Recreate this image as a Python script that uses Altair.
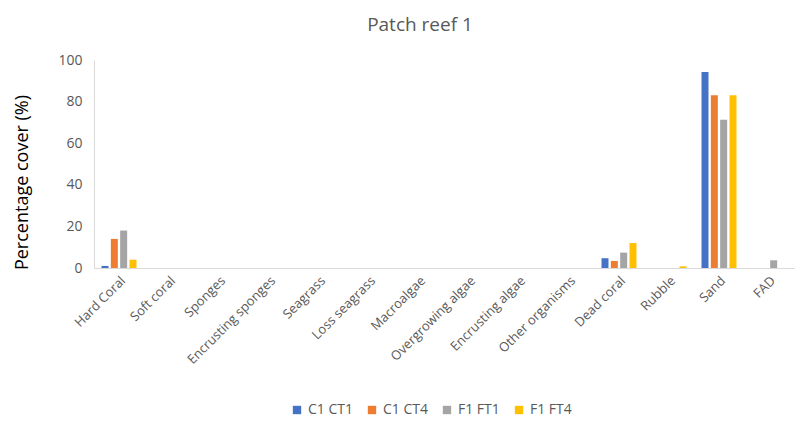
import altair as alt
import pandas as pd

categories = ["Hard Coral", "Soft coral", "Sponges", "Encrusting sponges", "Seagrass",
              "Loss seagrass", "Macroalgae", "Overgrowing algae", "Encrusting algae",
              "Other organisms", "Dead coral", "Rubble", "Sand", "FAD"]
series = ["C1 CT1", "C1 CT4", "F1 FT1", "F1 FT4"]
c1_ct1 = [1, 0, 0, 0, 0, 0, 0, 0, 0, 0, 4.7, 0, 94.2, 0]
c1_ct4 = [14, 0, 0, 0, 0, 0, 0, 0, 0, 0, 3.4, 0, 83, 0]
f1_ft1 = [18, 0, 0, 0, 0, 0, 0, 0, 0, 0, 7.4, 0, 71.3, 3.7]
f1_ft4 = [4, 0, 0, 0, 0, 0, 0, 0, 0, 0, 12, 0.8, 83, 0]
colors = ["#4472C4", "#ED7D31", "#A5A5A5", "#FFC000"]

rows = []
for s, vals in zip(series, [c1_ct1, c1_ct4, f1_ft1, f1_ft4]):
    for c, v in zip(categories, vals):
        rows.append({"Category": c, "Series": s, "Value": v})
df = pd.DataFrame(rows)

font = "Open Sans"

chart = alt.Chart(df).mark_bar().encode(
    x=alt.X("Category:N", sort=categories,
            scale=alt.Scale(paddingInner=0.3, paddingOuter=0.15),
            axis=alt.Axis(title=None, labelAngle=-45, labelColor="#595959", labelFontSize=13,
                          labelFont=font, ticks=False, domainColor="#D9D9D9", labelPadding=6)),
    xOffset=alt.XOffset("Series:N", sort=series, scale=alt.Scale(paddingInner=0.25)),
    y=alt.Y("Value:Q", scale=alt.Scale(domain=[0, 100]),
            axis=alt.Axis(title="Percentage cover (%)", values=[0, 20, 40, 60, 80, 100],
                          grid=False, ticks=False, domainColor="#D9D9D9",
                          labelColor="#595959", labelFontSize=14, labelFont=font,
                          titleFont=font, titleFontSize=18, titleFontWeight="normal",
                          titleColor="#000000", titlePadding=26, labelPadding=12,
                          titleY=122)),
    color=alt.Color("Series:N", sort=series,
                    scale=alt.Scale(domain=series, range=colors),
                    legend=alt.Legend(title=None, orient="none", legendX=196, legendY=343,
                                      direction="horizontal",
                                      symbolType="square", symbolSize=70, labelFont=font,
                                      labelFontSize=14, labelColor="#595959",
                                      columnPadding=12, symbolStrokeWidth=0)),
).properties(
    width=700, height=208,
    padding={"left": 5, "top": 8, "right": 5, "bottom": 5},
    title=alt.TitleParams("Patch reef 1", font=font, fontSize=19, fontWeight="normal",
                          color="#595959", anchor="middle", offset=18, dx=-24),
).configure_view(stroke=None)

chart.save("out.html", embed_options={"renderer": "svg", "actions": False})
